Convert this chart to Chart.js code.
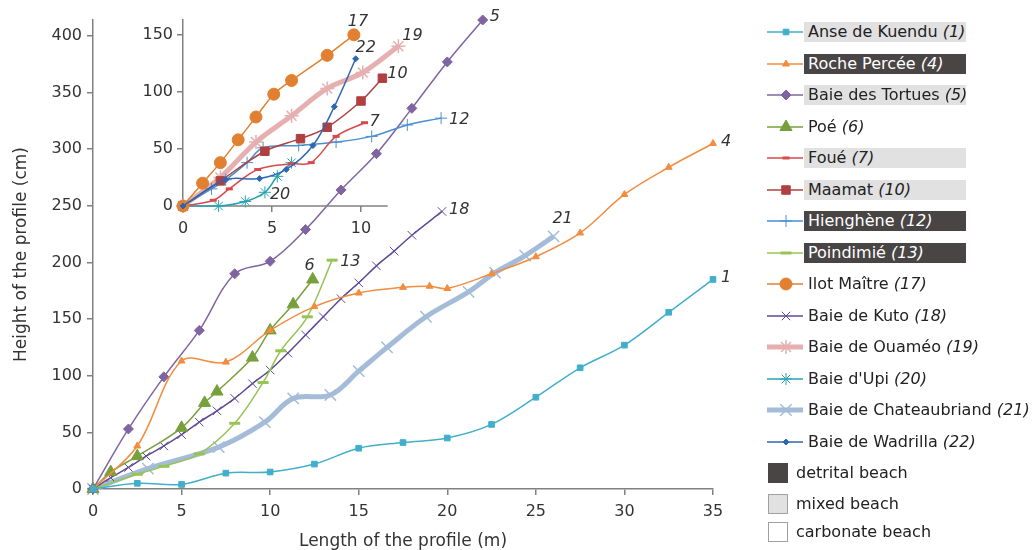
<!DOCTYPE html>
<html>
<head>
<meta charset="utf-8">
<script src="https://cdn.jsdelivr.net/npm/chart.js@4.4.1/dist/chart.umd.min.js"></script>
<style>
  body { margin: 0; background: #fff; font-family: 'DejaVu Sans', sans-serif; }
  #wrap { position: relative; width: 1036px; height: 550px; overflow: hidden; }
  #main { position: absolute; left: 0; top: 0; }
  #inset { position: absolute; left: 100px; top: 0; }
  .sym { position: absolute; left: 765px; }
  .lab { position: absolute; left: 804px; height: 20px; line-height: 20px; font-size: 16px; color: #222; padding-left: 4px; white-space: nowrap; }
  .lab.mixed { background: #e1e1e1; width: 158px; }
  .lab.detrital { background: #4a4545; color: #fff; width: 158px; }
  .lab i { font-style: italic; }
  .box { position: absolute; left: 768px; width: 18px; height: 18px; border: 1px solid #a0a0a0; }
  .btxt { position: absolute; left: 796px; font-size: 16px; color: #222; line-height: 20px; }
</style>
</head>
<body>
<div id="wrap">
  <canvas id="main" width="760" height="550"></canvas>
  <canvas id="inset" width="420" height="250"></canvas>
  <div id="legend"></div>
</div>
<script>
// profile lengths (m) and heights (cm)
const x1 = [0, 2.5, 5, 7.5, 10, 12.5, 15, 17.5, 20, 22.5, 25, 27.5, 30, 32.5, 35];
const y1 = [0, 5, 4, 14, 15, 22, 36, 41, 45, 57, 81, 107, 127, 156, 185];
const x4 = [0, 2.5, 5, 7.5, 10, 12.5, 15, 17.5, 19, 20, 22.5, 25, 27.5, 30, 32.5, 35];
const y4 = [0, 38, 113, 112, 140, 161, 173, 178, 179, 177, 190, 205, 226, 260, 284, 305];
const x5 = [0, 2, 4, 6, 8, 10, 12, 14, 16, 18, 20, 22];
const y5 = [0, 53, 99, 140, 190, 201, 229, 264, 296, 336, 377, 414];
const x6 = [0, 1, 2.5, 5, 6.3, 7, 9, 10, 11.3, 12.4];
const y6 = [0, 15, 29, 54, 76, 86, 116, 140, 163, 185];
const x13 = [0, 2.5, 4, 6, 8, 9.6, 10.6, 12.1, 13.5];
const y13 = [0, 13, 20, 31, 58, 94, 122, 152, 202];
const x18 = [0, 1, 2, 3, 4, 5, 6, 7, 8, 9, 10, 11, 12, 13, 14, 15, 16, 17, 18, 19.7];
const y18 = [0, 10, 19, 29, 38, 48, 59, 69, 80, 93, 105, 120, 136, 152, 168, 182, 197, 210, 224, 245];
const x21 = [0, 3.1, 7.1, 9.7, 11.3, 13.4, 15, 16.6, 18.8, 21.2, 22.7, 24.4, 26];
const y21 = [0, 18, 37, 59, 80, 83, 104, 125, 152, 174, 191, 206, 223];

// inset
const x7 = [0, 1.7, 2.6, 4.2, 6.1, 7.2, 8.6, 10.2];
const y7 = [0, 5, 15, 32, 37, 38, 61, 73];
const x10 = [0, 2.1, 4.6, 6.6, 8.1, 10, 11.2];
const y10 = [0, 22, 48, 59, 69, 92, 112];
const x12 = [0, 1.6, 2.4, 3.6, 4.5, 6.5, 8.6, 10.6, 12.6, 14.5];
const y12 = [0, 15, 23, 38, 51, 53, 56, 61, 71, 77];
const x17 = [0, 1.1, 2.1, 3.1, 4.1, 5.1, 6.1, 8.1, 9.6];
const y17 = [0, 20, 38, 58, 78, 98, 110, 132, 150];
const x19 = [0, 2.1, 4.1, 6.1, 8.1, 10.1, 12.1];
const y19 = [0, 25, 56, 79, 103, 117, 140];
const x20 = [0, 2, 3.5, 4.6, 5.3, 6.1];
const y20 = [0, 0, 4, 12, 26, 38];
const x22 = [0, 2.4, 4.3, 5.8, 7.3, 8.5, 9.7];
const y22 = [0, 23, 24, 32, 53, 87, 129];

const xTicks = [0, 5, 10, 15, 20, 25, 30, 35];
const yTicks = [0, 50, 100, 150, 200, 250, 300, 350, 400];
const insetXTicks = [0, 5, 10];
const insetYTicks = [0, 50, 100, 150];
const insetAxisEnd = 11.5;

const beachNames = ['Anse de Kuendu', 'Roche Percée', 'Baie des Tortues', 'Poé', 'Foué', 'Maamat',
  'Hienghène', 'Poindimié', 'Ilot Maître', 'Baie de Kuto', 'Baie de Ouaméo', "Baie d'Upi",
  'Baie de Chateaubriand', 'Baie de Wadrilla'];
const beachNums = [1, 4, 5, 6, 7, 10, 12, 13, 17, 18, 19, 20, 21, 22];
const beachType = ['mixed', 'detrital', 'mixed', 'carbonate', 'mixed', 'mixed', 'detrital', 'detrital',
  'carbonate', 'carbonate', 'carbonate', 'carbonate', 'carbonate', 'carbonate'];

const FONT = "'DejaVu Sans', sans-serif";
const AXIS = '#808080';
const styles = {
  1:  { color: '#41afc9', point: 'rect', r: 4, w: 1.5 },
  4:  { color: '#f28c3f', point: 'triangle', r: 4, w: 1.5 },
  5:  { color: '#8064a2', point: 'rectRot', r: 5, w: 1.5 },
  6:  { color: '#77a03c', point: 'triangle', r: 7, w: 1.5 },
  7:  { color: '#d9484a', point: 'line', r: 3.5, w: 1.5, pw: 3 },
  10: { color: '#b04040', point: 'rect', r: 6, w: 1.5 },
  12: { color: '#4a8fd0', point: 'cross', r: 6, w: 1.5 },
  13: { color: '#98c455', point: 'line', r: 5.5, w: 1.5, pw: 3 },
  17: { color: '#e08030', point: 'circle', r: 6, w: 1.5 },
  18: { color: '#5e4a94', point: 'crossRot', r: 6, w: 1.5 },
  19: { color: '#e6b0b0', point: 'star', r: 7, w: 5, pw: 1.5 },
  20: { color: '#2aa3b0', point: 'star', r: 6, w: 1.5 },
  21: { color: '#a4bcd8', point: 'crossRot', r: 8, w: 5, pw: 1.5 },
  22: { color: '#2f66b0', point: 'rectRot', r: 3, w: 1.5 }
};

function pts(xs, ys) { return xs.map((x, i) => ({ x: x, y: ys[i] })); }

function series(n, xs, ys, tag) {
  const s = styles[n];
  return {
    label: String(n), data: pts(xs, ys), tag: tag,
    borderColor: s.color, backgroundColor: s.color, borderWidth: s.w,
    pointStyle: s.point, pointRadius: s.r, pointHoverRadius: s.r,
    pointBorderColor: s.color, pointBackgroundColor: s.color, pointBorderWidth: s.pw || 1,
    tension: 0.35, clip: false
  };
}

const tagPlugin = {
  id: 'tags',
  afterDatasetsDraw(chart) {
    const ctx = chart.ctx;
    ctx.save();
    ctx.font = 'italic 16px ' + FONT;
    ctx.fillStyle = '#333';
    ctx.textBaseline = 'middle';
    chart.data.datasets.forEach((ds, i) => {
      const t = ds.tag;
      if (!t) return;
      const meta = chart.getDatasetMeta(i);
      const p = meta.data[t.at == null ? meta.data.length - 1 : t.at];
      ctx.textAlign = t.align || 'left';
      ctx.fillText(t.text, p.x + t.dx, p.y + t.dy);
    });
    ctx.restore();
  }
};

// the inset's x axis line stops short of its plot area
const shortAxis = {
  id: 'shortAxis',
  beforeDatasetsDraw(chart) {
    const x = chart.scales.x, ctx = chart.ctx;
    ctx.save();
    ctx.strokeStyle = AXIS;
    ctx.lineWidth = 1.5;
    ctx.beginPath();
    ctx.moveTo(x.getPixelForValue(0), x.top);
    ctx.lineTo(x.getPixelForValue(insetAxisEnd), x.top);
    ctx.stroke();
    ctx.restore();
  }
};

function onlyTicks(list) {
  return function (scale) { scale.ticks = list.map(v => ({ value: v })); };
}

function axis(extra) {
  return Object.assign({
    type: 'linear',
    grid: { display: true, drawOnChartArea: false, drawTicks: true, tickLength: 6, color: AXIS, lineWidth: 1.5 },
    border: { display: true, color: AXIS, width: 1.5 },
  }, extra);
}

new Chart(document.getElementById('main'), {
  type: 'line',
  data: {
    datasets: [
      series(1, x1, y1, { text: '1', dx: 8, dy: -2 }),
      series(4, x4, y4, { text: '4', dx: 8, dy: -2 }),
      series(5, x5, y5, { text: '5', dx: 7, dy: -3 }),
      series(6, x6, y6, { text: '6', dx: -3, dy: -14, align: 'center' }),
      series(13, x13, y13, { text: '13', dx: 8, dy: 2 }),
      series(18, x18, y18, { text: '18', dx: 7, dy: -2 }),
      series(21, x21, y21, { text: '21', dx: 9, dy: -18, align: 'center' })
    ]
  },
  options: {
    responsive: false, animation: false,
    layout: { padding: { left: 0, top: 20, right: 47, bottom: 0 } },
    plugins: { legend: { display: false }, tooltip: { enabled: false } },
    scales: {
      x: axis({
        min: 0, max: 35,
        afterBuildTicks: onlyTicks(xTicks),
        afterFit(s) { s.height = 61; },
        ticks: { color: '#333', font: { family: FONT, size: 16 }, padding: 7 },
        title: { display: true, text: 'Length of the profile (m)', color: '#333',
          font: { family: FONT, size: 17, lineHeight: 1 }, padding: 0 }
      }),
      y: axis({
        min: 0, max: 414,
        afterBuildTicks: onlyTicks(yTicks),
        afterFit(s) { s.width = 93; },
        ticks: { color: '#333', font: { family: FONT, size: 16 }, padding: 5 },
        title: { display: true, text: 'Height of the profile (cm)', color: '#333',
          font: { family: FONT, size: 17, lineHeight: 1 }, padding: { top: 13 } }
      })
    }
  },
  plugins: [tagPlugin]
});

new Chart(document.getElementById('inset'), {
  type: 'line',
  data: {
    datasets: [
      series(22, x22, y22, { text: '22', dx: 10, dy: -11, align: 'center' }),
      series(17, x17, y17, { text: '17', dx: 4, dy: -13, align: 'center' }),
      series(10, x10, y10, { text: '10', dx: 5, dy: -4 }),
      series(7, x7, y7, { text: '7', dx: 5, dy: -1 }),
      series(12, x12, y12, { text: '12', dx: 8, dy: 2 }),
      series(20, x20, y20, { text: '20', dx: 5, dy: 3, at: 3 }),
      series(19, x19, y19, { text: '19', dx: 14, dy: -10, align: 'center' })
    ]
  },
  options: {
    responsive: false, animation: false,
    layout: { padding: { left: 0, top: 20, right: 70, bottom: 0 } },
    plugins: { legend: { display: false }, tooltip: { enabled: false } },
    scales: {
      x: axis({
        min: 0, max: 15,
        border: { display: false },
        afterBuildTicks: onlyTicks(insetXTicks),
        afterFit(s) { s.height = 44; },
        ticks: { color: '#333', font: { family: FONT, size: 16 }, padding: 7 }
      }),
      y: axis({
        min: 0, max: 163,
        afterBuildTicks: onlyTicks(insetYTicks),
        afterFit(s) { s.width = 83; },
        ticks: { color: '#333', font: { family: FONT, size: 16 }, padding: 4 }
      })
    }
  },
  plugins: [shortAxis, tagPlugin]
});

// legend on the right
const legend = document.getElementById('legend');
beachNums.forEach((n, i) => {
  const yc = 32 + i * 31.5;
  const s = styles[n];
  const c = document.createElement('canvas');
  c.width = 40; c.height = 20;
  c.className = 'sym';
  c.style.top = (yc - 10) + 'px';
  legend.appendChild(c);
  const ctx = c.getContext('2d');
  ctx.strokeStyle = s.color; ctx.fillStyle = s.color;
  ctx.lineWidth = s.w;
  ctx.beginPath(); ctx.moveTo(2, 10); ctx.lineTo(38, 10); ctx.stroke();
  ctx.lineWidth = s.pw || 1;
  Chart.helpers.drawPoint(ctx, { pointStyle: s.point, radius: s.r, borderWidth: s.pw || 1, rotation: 0 }, 21, 10);

  const lab = document.createElement('div');
  lab.className = 'lab ' + beachType[i];
  lab.style.top = (yc - 10) + 'px';
  lab.innerHTML = beachNames[i] + ' <i>(' + n + ')</i>';
  legend.appendChild(lab);
});

const kinds = [['detrital beach', '#4a4545', 473], ['mixed beach', '#e1e1e1', 503.5], ['carbonate beach', '#ffffff', 532]];
kinds.forEach(k => {
  const b = document.createElement('div');
  b.className = 'box';
  b.style.background = k[1];
  b.style.top = (k[2] - 10) + 'px';
  if (k[0] === 'detrital beach') b.style.borderColor = '#4a4545';
  legend.appendChild(b);
  const t = document.createElement('div');
  t.className = 'btxt';
  t.style.top = (k[2] - 10) + 'px';
  t.textContent = k[0];
  legend.appendChild(t);
});
</script>
</body>
</html>
